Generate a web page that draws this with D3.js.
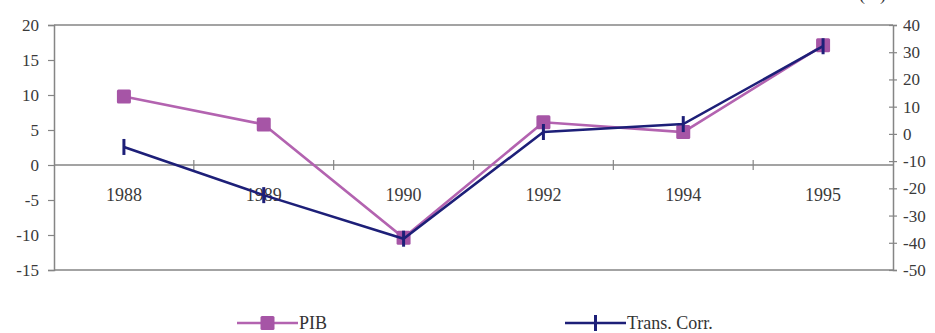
<!DOCTYPE html>
<html><head><meta charset="utf-8">
<script src="https://cdn.jsdelivr.net/npm/d3@7"></script>
<style>body{margin:0;background:#fff}svg{display:block}</style>
</head><body>
<svg id="c" width="935" height="333"></svg>
<script>
const categories = ["1988","1989","1990","1992","1994","1995"];
const pib = [9.8, 5.8, -10.4, 6.1, 4.7, 17.1];
const transCorr = [-4.8, -22.5, -38.5, 0.7, 3.6, 32.2];
const leftTicks = [20,15,10,5,0,-5,-10,-15];
const rightTicks = [40,30,20,10,0,-10,-20,-30,-40,-50];
const seriesNames = ["PIB","Trans. Corr."];

const svg = d3.select("#c");
const L = 54, R = 893, T = 25, B = 270;
const font = "'Liberation Serif', 'DejaVu Serif', serif";
const axisCol = "#858585";
const pibCol = "#b363b0", pibMark = "#a655a6";
const tcCol = "#1d1f78";
const fmt = d => String(d);

const x = d3.scaleBand().domain(categories).range([L, R]).padding(0);
const yL = d3.scaleLinear().domain([-15, 20]).range([B, T]);
const yR = d3.scaleLinear().domain([-50, 40]).range([B, T]);

// frame top & bottom
svg.append("line").attr("x1", L).attr("x2", R).attr("y1", T).attr("y2", T).attr("stroke", axisCol).attr("stroke-width", 1.5);
svg.append("line").attr("x1", L).attr("x2", R).attr("y1", B).attr("y2", B).attr("stroke", axisCol).attr("stroke-width", 1.5);

// left axis
const gl = svg.append("g").attr("transform", `translate(${L},0)`)
  .call(d3.axisLeft(yL).tickValues(leftTicks).tickSize(6).tickPadding(8).tickFormat(fmt));
// right axis
const gr = svg.append("g").attr("transform", `translate(${R},0)`)
  .call(d3.axisRight(yR).tickValues(rightTicks).tickSize(4).tickPadding(6).tickFormat(fmt));
gr.selectAll(".tick line").attr("x1", -4);
[gl, gr].forEach(g => {
  g.selectAll("path").attr("stroke", axisCol).attr("stroke-width", 1.5);
  g.selectAll(".tick line").attr("stroke", axisCol).attr("stroke-width", 1.2);
  g.selectAll("text").attr("font-family", font).attr("font-size", 17).attr("fill", "#3a3a3a");
});
gl.selectAll("text").attr("x", -15);

// category axis at zero
const y0 = yL(0);
svg.append("line").attr("x1", L).attr("x2", R).attr("y1", y0).attr("y2", y0).attr("stroke", axisCol).attr("stroke-width", 1.5);
const bounds = categories.map(c => x(c)).concat([x(categories[categories.length-1]) + x.bandwidth()]);
svg.selectAll(".ct").data(bounds.slice(1, -1)).join("line")
  .attr("x1", d => d).attr("x2", d => d).attr("y1", y0 - 5).attr("y2", y0 + 5)
  .attr("stroke", axisCol).attr("stroke-width", 1.2);
svg.selectAll(".cl").data(categories).join("text")
  .attr("x", d => x(d) + x.bandwidth()/2).attr("y", y0 + 36)
  .attr("text-anchor", "middle").attr("font-family", font).attr("font-size", 18).attr("fill", "#3a3a3a")
  .text(d => d);

const cx = d => x(d) + x.bandwidth()/2;

// PIB line
svg.append("path").datum(pib)
  .attr("d", d3.line().x((d,i) => cx(categories[i])).y(d => yL(d)))
  .attr("fill", "none").attr("stroke", pibCol).attr("stroke-width", 2.6);
svg.selectAll(".pm").data(pib).join("rect")
  .attr("x", (d,i) => cx(categories[i]) - 7).attr("y", d => yL(d) - 7)
  .attr("width", 14).attr("height", 14).attr("rx", 1.5).attr("fill", pibMark);

// Trans Corr line
svg.append("path").datum(transCorr)
  .attr("d", d3.line().x((d,i) => cx(categories[i])).y(d => yR(d)))
  .attr("fill", "none").attr("stroke", tcCol).attr("stroke-width", 2.6);
svg.selectAll(".tm").data(transCorr).join("line")
  .attr("x1", (d,i) => cx(categories[i])).attr("x2", (d,i) => cx(categories[i]))
  .attr("y1", d => yR(d) - 8).attr("y2", d => yR(d) + 8)
  .attr("stroke", tcCol).attr("stroke-width", 3);

// clipped title fragment at top right (only its lower edge is visible in the reference)
svg.append("text").attr("x", 859).attr("y", 0).attr("font-family", font).attr("font-size", 18).attr("fill", "#333").text("(%)");

// legend
const ly = 323;
const leg = [
  {name: seriesNames[0], x1: 237, x2: 298, col: pibCol, mk: "sq"},
  {name: seriesNames[1], x1: 565, x2: 626, col: tcCol, mk: "bar"}
];
leg.forEach(l => {
  svg.append("line").attr("x1", l.x1).attr("x2", l.x2).attr("y1", ly).attr("y2", ly).attr("stroke", l.col).attr("stroke-width", 2.6);
  const m = (l.x1 + l.x2) / 2;
  if (l.mk === "sq") svg.append("rect").attr("x", m - 7).attr("y", ly - 7).attr("width", 14).attr("height", 14).attr("rx", 1.5).attr("fill", pibMark);
  else svg.append("line").attr("x1", m).attr("x2", m).attr("y1", ly - 8).attr("y2", ly + 8).attr("stroke", l.col).attr("stroke-width", 3);
  svg.append("text").attr("x", l.x2 + 1).attr("y", ly + 6).attr("font-family", font).attr("font-size", 18).attr("fill", "#333").text(l.name);
});
</script>
</body></html>
